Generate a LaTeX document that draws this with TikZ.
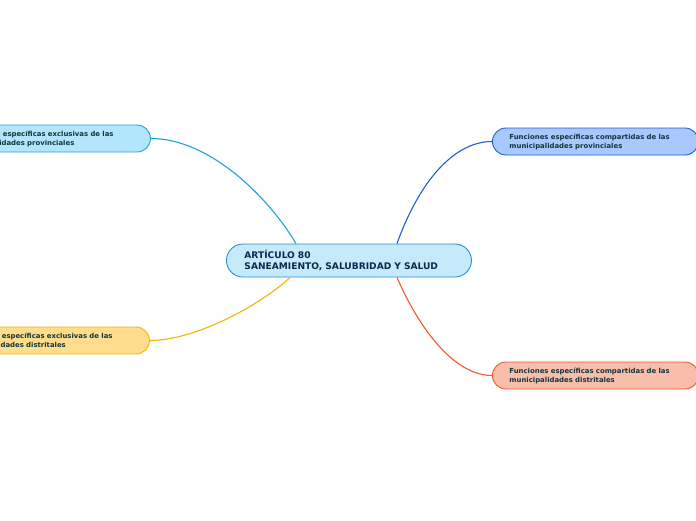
\documentclass[tikz,border=0pt]{standalone}
\usepackage{fontspec}
\setmainfont{DejaVu Sans}
\usepackage{tikz}
\usetikzlibrary{calc, positioning}
\usepackage{xcolor}
\definecolor{mainFill}{HTML}{C5EAFB}
\definecolor{mainLine}{HTML}{2A8FD6}
\definecolor{provLFill}{HTML}{B3E5FC}
\definecolor{provLLine}{HTML}{1DA1E0}
\definecolor{distLFill}{HTML}{FFDD8C}
\definecolor{distLLine}{HTML}{F5B400}
\definecolor{provRFill}{HTML}{A8C8FF}
\definecolor{provRLine}{HTML}{1E5FCC}
\definecolor{distRFill}{HTML}{F8BEAA}
\definecolor{distRLine}{HTML}{EE5A28}
\definecolor{mainText}{HTML}{0F2850}
\definecolor{subText}{HTML}{10363A}

\tikzset{
  topic/.style={draw, line width=0.9pt, rounded corners=13.5pt, minimum height=27pt,
    text width=172pt, inner xsep=17pt, inner ysep=0pt, align=left, anchor=west,
    font=\fontsize{6.9}{9}\selectfont\bfseries, text=subText},
  link/.style={line width=1.1pt}
}

\begin{document}
\begin{tikzpicture}[x=1pt, y=-1pt]
  \useasboundingbox (0,0) rectangle (696,520);
  \clip (0,0) rectangle (696,520);

  % central topic
  \node[draw=mainLine, fill=mainFill, line width=0.9pt, rounded corners=16.5pt,
    minimum height=33pt, text width=209pt, inner xsep=18pt, inner ysep=0pt,
    align=left, anchor=west, font=\fontsize{9.1}{11}\selectfont\bfseries, text=mainText]
    (main) at (226, 260.5) {ARTÍCULO 80\\SANEAMIENTO, SALUBRIDAD Y SALUD};

  % left topics
  \node[topic, draw=provLLine, fill=provLFill] (provL) at (-56, 138.5)
    {Funciones específicas exclusivas de las\\municipalidades provinciales};
  \node[topic, draw=distLLine, fill=distLFill] (distL) at (-57, 340.5)
    {Funciones específicas exclusivas de las\\municipalidades distritales};

  % right topics
  \node[topic, draw=provRLine, fill=provRFill] (provR) at (492, 141.5)
    {Funciones específicas compartidas de las\\municipalidades provinciales};
  \node[topic, draw=distRLine, fill=distRFill] (distR) at (492, 375.5)
    {Funciones específicas compartidas de las\\municipalidades distritales};

  % branches
  \draw[link, provLLine] ([xshift=70pt]main.north west) .. controls +(-26,-44) and +(60,0) .. (provL.east);
  \draw[link, distLLine] ([xshift=64pt]main.south west) .. controls +(-30,28) and +(45,0) .. (distL.east);
  \draw[link, provRLine] ([xshift=171pt]main.north west) .. controls +(23,-64) and +(-37,0) .. (provR.west);
  \draw[link, distRLine] ([xshift=171pt]main.south west) .. controls +(23,53) and +(-37,0) .. (distR.west);
\end{tikzpicture}
\end{document}
